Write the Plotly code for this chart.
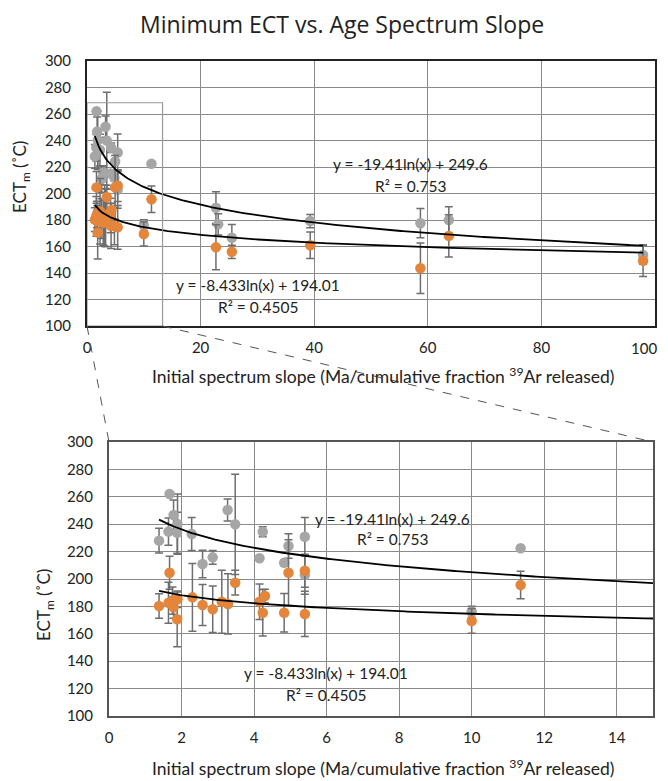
import numpy as np
import plotly.graph_objects as go

# ---------------- data ----------------
grey_x = [1.38, 1.64, 1.67, 1.78, 1.89, 1.88, 2.28, 2.58, 2.86, 3.27, 3.48, 4.15, 4.24, 4.83, 4.95, 5.40, 5.40,
          10.0, 11.35, 22.7, 23.1, 25.5, 39.3, 58.7, 63.7, 97.9]
grey_y = [228, 234.6, 262, 246.7, 240.1, 233.8, 232.8, 211, 215.8, 250.4, 239.9, 215.1, 234.5, 211.9, 224.1, 230.9, 202.9,
          176.1, 222.4, 189.3, 176.7, 166.6, 179.2, 177.6, 180, 153.6]
grey_err = [9, 10, 1, 11, 22, 15, 12, 10, 5, 8, 36.6, 1, 3.6, 2, 9, 14, 14,
            4, 1, 12, 8, 10, 5, 11, 10, 7]

orange_x = [1.38, 1.64, 1.67, 1.75, 1.78, 1.88, 1.89, 2.30, 2.58, 2.86, 3.11, 3.28, 3.48, 4.15, 4.24, 4.30, 4.83, 4.95,
            5.40, 5.40, 10.0, 11.35, 22.7, 25.5, 39.3, 58.7, 63.7, 97.9]
orange_y = [180.3, 182.7, 204.6, 184.2, 179.3, 170.6, 185.2, 186.6, 181, 177.9, 183.4, 181.8, 197.3, 183.4, 175.4, 187.6,
            175.4, 204.6, 206, 174.5, 169.4, 195.6, 159.4, 156, 161, 143.6, 168, 149.3]
orange_err = [9, 15, 12, 10, 8, 20, 6, 24.7, 15, 17, 23, 22, 9, 13, 17, 5, 14, 24, 12, 16.5, 9, 10, 17, 5, 10, 19, 16, 12]

top_x_ticks = [0, 20, 40, 60, 80, 100]

grey_fit = (-19.41, 249.6)
orange_fit = (-8.433, 194.01)
grey_eq = ["y = -19.41ln(x) + 249.6", "R² = 0.753"]
orange_eq = ["y = -8.433ln(x) + 194.01", "R² = 0.4505"]

title = "Minimum ECT vs. Age Spectrum Slope"
x_title = "Initial spectrum slope (Ma/cumulative fraction <sup>39</sup>Ar released)"
y_title = "ECT<sub>m</sub> (˚C)"

# ---------------- styling ----------------
PAGE_W, PAGE_H = 668, 781
BODY = 8  # default page margin before the figure
W, H = PAGE_W - BODY, PAGE_H - BODY
GREY = "#a6a6a6"
ORANGE = "#e3853a"
ERR = "#6e6e6e"
GRID = "#8a8a8a"
FONT = "Lato"


def fx(p):
    return (p - BODY) / W


def fy(p):
    return 1 - (p - BODY) / H


# target plot areas in page pixels
top_px = dict(l=87, r=655, t=61, b=326)
bot_px = dict(l=109, r=653, t=442, b=716)


def xd(p):
    return [fx(p["l"]), fx(p["r"])]


def yd(p):
    return [fy(p["b"]), fy(p["t"])]


fig = go.Figure()

for xa, ya, xmax in [("x", "y", 100), ("x2", "y2", 15)]:
    for xs, ys, es, col in [(grey_x, grey_y, grey_err, GREY), (orange_x, orange_y, orange_err, ORANGE)]:
        fig.add_trace(go.Scatter(
            x=xs, y=ys, mode="markers", xaxis=xa, yaxis=ya,
            marker=dict(color=col, size=10.5, line=dict(width=0)),
            error_y=dict(type="data", array=es, visible=True, color=ERR, thickness=1.5, width=4),
            showlegend=False, hoverinfo="x+y"))
    for xs, (a, b) in [(grey_x, grey_fit), (orange_x, orange_fit)]:
        xx = np.linspace(min(xs), min(max(xs), xmax), 300)
        fig.add_trace(go.Scatter(x=xx, y=a * np.log(xx) + b, mode="lines", xaxis=xa, yaxis=ya,
                                 line=dict(color="black", width=1.8), showlegend=False, hoverinfo="skip"))

axis_common = dict(showgrid=True, gridcolor=GRID, gridwidth=1, showline=True, mirror=True,
                   zeroline=False, ticks="", ticklabeloverflow="allow")
tick15 = dict(family=FONT, size=15, color="#222")

fig.update_layout(
    width=W, height=H, margin=dict(l=0, r=0, t=0, b=0, autoexpand=False),
    paper_bgcolor="white", plot_bgcolor="white",
    xaxis=dict(domain=xd(top_px), range=[0, 100], anchor="y", linecolor="#222", linewidth=2,
               tickvals=top_x_ticks, ticktext=[str(v) for v in top_x_ticks[:-1]] + [""],
               ticklabelstandoff=7, tickfont=tick15, **axis_common),
    yaxis=dict(domain=yd(top_px), range=[100, 300], dtick=20, anchor="x", linecolor="#222", linewidth=2,
               ticklabelstandoff=11, tickfont=tick15, **axis_common),
    xaxis2=dict(domain=xd(bot_px), range=[0, 15], dtick=2, anchor="y2", linecolor="#555", linewidth=2,
                ticklabelstandoff=7, tickfont=tick15, **axis_common),
    yaxis2=dict(domain=yd(bot_px), range=[100, 300], dtick=20, anchor="x2", linecolor="#555", linewidth=2,
                ticklabelstandoff=11, tickfont=tick15, **axis_common),
)

ann = []
# last tick label of the top x axis, kept inside the page edge
ann.append(dict(text=str(top_x_ticks[-1]), x=top_x_ticks[-1], xref="x", y=fy(348), yref="paper",
                showarrow=False, xanchor="right", xshift=4, yanchor="middle", font=tick15))
ann.append(dict(text=title, x=fx(342), y=fy(24), xref="paper", yref="paper", showarrow=False,
                font=dict(family="Open Sans", size=23, color="#222"), xanchor="center", yanchor="middle"))
for cy in [375, 767]:
    ann.append(dict(text=x_title, x=fx(383), y=fy(cy), xref="paper", yref="paper", showarrow=False,
                    font=dict(family=FONT, size=17.5, color="#222"), xanchor="center", yanchor="middle"))
for cx, cy in [(21, 177), (45, 605)]:
    ann.append(dict(text=y_title, x=fx(cx), y=fy(cy), xref="paper", yref="paper", showarrow=False,
                    textangle=-90, font=dict(family=FONT, size=17, color="#222"),
                    xanchor="center", yanchor="middle"))

eq_pos = [
    ("x", "y", grey_eq, 57.0, 222.3, 205.7),
    ("x", "y", orange_eq, 30.1, 130.9, 114.3),
    ("x2", "y2", grey_eq, 7.82, 243.8, 229.2),
    ("x2", "y2", orange_eq, 5.97, 131.4, 115.3),
]
for xr, yr, lines, ex, ey1, ey2 in eq_pos:
    for txt, ey in zip(lines, [ey1, ey2]):
        ann.append(dict(text=txt, x=ex, y=ey, xref=xr, yref=yr, showarrow=False,
                        font=dict(family=FONT, size=15.5, color="#222"), xanchor="center", yanchor="middle"))
fig.update_layout(annotations=ann)

# zoom rectangle + connectors
rect_x1, rect_y1 = 13.3, 268.5
fig.add_shape(type="rect", xref="x", yref="y", x0=0, x1=rect_x1, y0=100, y1=rect_y1,
              line=dict(color="#9a9a9a", width=1.2), fillcolor="rgba(0,0,0,0)")
tdx = xd(top_px)
tx0 = tdx[0]
tx1 = tdx[0] + rect_x1 / 100 * (tdx[1] - tdx[0])
ty = yd(top_px)[0]
bdx = xd(bot_px)
by = yd(bot_px)[1]
fig.add_shape(type="line", xref="paper", yref="paper", x0=tx0, y0=ty, x1=bdx[0], y1=by,
              line=dict(color="#555", width=1, dash="dash"))
fig.add_shape(type="line", xref="paper", yref="paper", x0=tx1, y0=ty, x1=bdx[1], y1=by,
              line=dict(color="#555", width=1, dash="dash"))

fig.write_html("out.html")
